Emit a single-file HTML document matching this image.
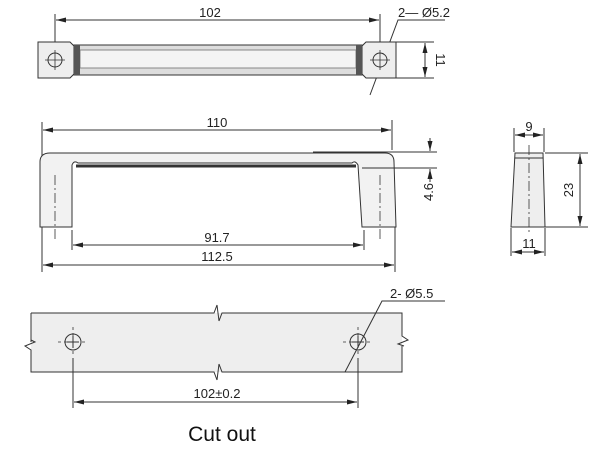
<!DOCTYPE html>
<html><head><style>body{margin:0;background:#fff}svg{display:block}</style></head><body>
<svg width="600" height="450" viewBox="0 0 600 450" xmlns="http://www.w3.org/2000/svg" font-family="Liberation Sans, sans-serif" fill="none" stroke="#333" stroke-width="1">
<defs><marker id="a" markerWidth="10" markerHeight="6" refX="10" refY="3" orient="auto-start-reverse" markerUnits="userSpaceOnUse"><path d="M0,0.5 L10,3 L0,5.5z" fill="#222" stroke="none"/></marker></defs>
<!-- top view -->
<line x1="55" y1="14" x2="55" y2="42"/><line x1="380" y1="14" x2="380" y2="42"/>
<line x1="56" y1="20" x2="379" y2="20" marker-start="url(#a)" marker-end="url(#a)"/>
<text x="210" y="17" font-size="13" fill="#222" stroke="none" text-anchor="middle">102</text>
<text x="398" y="17" font-size="13" fill="#222" stroke="none">2— Ø5.2</text>
<polyline points="445,20 398,20 370,95"/>
<path d="M38,42 H70 L74,46 V74 L70,78 H38 Z" fill="#eee"/>
<path d="M396,42 H366 L362,46 V74 L366,78 H396 Z" fill="#eee"/>
<rect x="74" y="45" width="288" height="30" fill="#ddd"/>
<rect x="80" y="50" width="276" height="18" fill="#f4f4f4" stroke="#888"/>
<rect x="74" y="45" width="6" height="30" fill="#555" stroke="none"/><rect x="356" y="45" width="6" height="30" fill="#555" stroke="none"/>
<circle cx="55" cy="60" r="7"/><circle cx="380" cy="60" r="7"/>
<path d="M45,60H65M55,50V70M370,60H390M380,50V70" stroke-width="0.8"/>
<line x1="396" y1="42" x2="434" y2="42"/><line x1="396" y1="78" x2="434" y2="78"/>
<line x1="425" y1="43" x2="425" y2="77" marker-start="url(#a)" marker-end="url(#a)"/>
<text x="0" y="0" font-size="13" fill="#222" stroke="none" text-anchor="middle" transform="translate(436,60) rotate(90)">11</text>
<!-- front view -->
<line x1="42" y1="122" x2="42" y2="272"/><line x1="392" y1="120" x2="392" y2="150"/><line x1="395" y1="227" x2="395" y2="272"/>
<line x1="43" y1="130" x2="391" y2="130" marker-start="url(#a)" marker-end="url(#a)"/>
<text x="217" y="127" font-size="13" fill="#222" stroke="none" text-anchor="middle">110</text>
<path d="M40,227 V162 Q40,153 50,153 H385 Q394,153 394,162 L396,227 H362 L358,165 Q355,160 352,163 L78,163 Q74,160 72,165 L72,227 Z" fill="#f2f2f2"/>
<line x1="76" y1="166" x2="356" y2="166" stroke="#333" stroke-width="3"/>
<path d="M55,175V240M380,175V240" stroke-dasharray="10,3,2,3" stroke-width="0.8"/>
<line x1="72" y1="230" x2="72" y2="250"/><line x1="364" y1="230" x2="364" y2="250"/>
<line x1="313" y1="152" x2="437" y2="152"/><line x1="362" y1="168" x2="437" y2="168"/>
<line x1="430" y1="138" x2="430" y2="151" marker-end="url(#a)"/><line x1="430" y1="182" x2="430" y2="169" marker-end="url(#a)"/>
<text x="0" y="0" font-size="13" fill="#222" stroke="none" text-anchor="middle" transform="translate(433,192) rotate(-90)">4.6</text>
<line x1="73" y1="245" x2="363" y2="245" marker-start="url(#a)" marker-end="url(#a)"/>
<text x="217" y="242" font-size="13" fill="#222" stroke="none" text-anchor="middle">91.7</text>
<line x1="43" y1="265" x2="394" y2="265" marker-start="url(#a)" marker-end="url(#a)"/>
<text x="217" y="261" font-size="13" fill="#222" stroke="none" text-anchor="middle">112.5</text>
<!-- side view -->
<path d="M515,153 H543 L545,227 H511 Z" fill="#eee"/>
<line x1="515" y1="158" x2="543" y2="158"/>
<line x1="529" y1="145" x2="529" y2="232" stroke-dasharray="10,3,2,3" stroke-width="0.8"/>
<line x1="514" y1="128" x2="514" y2="152"/><line x1="544" y1="128" x2="544" y2="152"/>
<line x1="515" y1="135" x2="543" y2="135" marker-start="url(#a)" marker-end="url(#a)"/>
<text x="529" y="131" font-size="13" fill="#222" stroke="none" text-anchor="middle">9</text>
<line x1="545" y1="153" x2="588" y2="153"/><line x1="545" y1="227" x2="588" y2="227"/>
<line x1="580" y1="154" x2="580" y2="226" marker-start="url(#a)" marker-end="url(#a)"/>
<text x="0" y="0" font-size="13" fill="#222" stroke="none" text-anchor="middle" transform="translate(573,190) rotate(-90)">23</text>
<line x1="511" y1="228" x2="511" y2="256"/><line x1="545" y1="228" x2="545" y2="256"/>
<line x1="512" y1="252" x2="544" y2="252" marker-start="url(#a)" marker-end="url(#a)"/>
<text x="529" y="248" font-size="13" fill="#222" stroke="none" text-anchor="middle">11</text>
<!-- cutout -->
<rect x="31" y="313" width="371" height="59" fill="#eee" stroke="none"/>
<path d="M31,313 H214 l3,-8 l2,16 l3,-8 H402 V336 l6,4 l-10,4 l6,2 M402,346 V372 H222 l-3,-8 l-2,16 l-3,-8 H31 V350 l-6,-4 l10,-4 l-4,-2 M31,342 V313"/>
<circle cx="73" cy="342" r="8"/><circle cx="358" cy="342" r="8"/>
<path d="M58,342H88M73,327V357M343,342H373M358,327V357" stroke-dasharray="3,3" stroke-width="0.8"/>
<path d="M67,342H79M73,336V348M352,342H364M358,336V348"/>
<line x1="73" y1="358" x2="73" y2="408"/><line x1="358" y1="358" x2="358" y2="408"/>
<line x1="74" y1="402" x2="357" y2="402" marker-start="url(#a)" marker-end="url(#a)"/>
<text x="217" y="398" font-size="13" fill="#222" stroke="none" text-anchor="middle">102±0.2</text>
<text x="390" y="298" font-size="13" fill="#222" stroke="none">2- Ø5.5</text>
<polyline points="445,301 382,301 345,372"/>
<text x="222" y="441" font-size="21" fill="#111" stroke="none" text-anchor="middle">Cut out</text>
</svg>
</body></html>
